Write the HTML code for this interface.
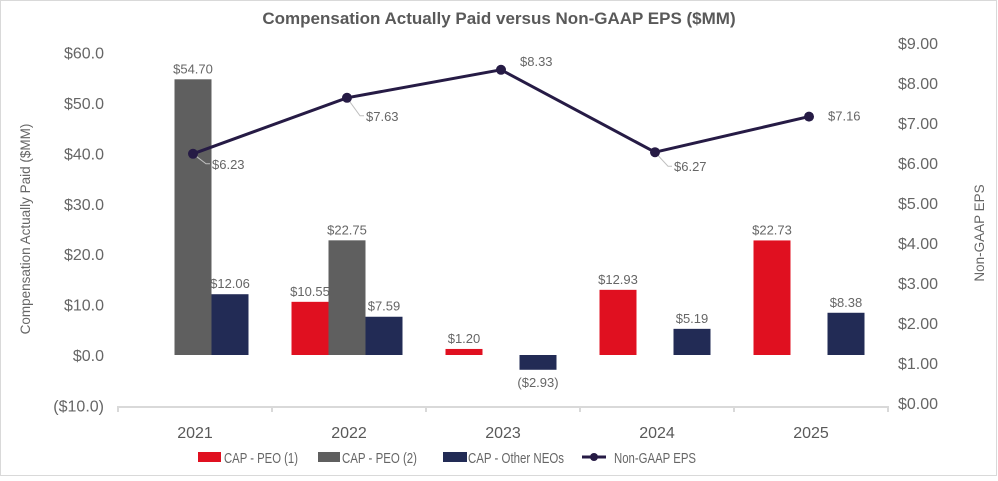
<!DOCTYPE html>
<html><head><meta charset="utf-8"><style>
body{margin:0;background:#fff;font-family:"Liberation Sans",Arial,sans-serif}
svg text{font-family:"Liberation Sans",Arial,sans-serif}
</style></head><body>
<svg width="998" height="476" viewBox="0 0 998 476" id="chart">
<rect x="0.5" y="0.5" width="996" height="475" fill="#fff" stroke="#d9d9d9"/>
<text x="499" y="24" text-anchor="middle" font-size="17" font-weight="bold" fill="#595959">Compensation Actually Paid versus Non-GAAP EPS ($MM)</text>
<text transform="translate(30,229) rotate(-90)" text-anchor="middle" font-size="13.5" fill="#666">Compensation Actually Paid ($MM)</text>
<text transform="translate(984,233) rotate(-90)" text-anchor="middle" font-size="13.5" fill="#666">Non-GAAP EPS</text>
<g id="g"></g>
<g>
<rect x="198" y="452" width="23" height="10" fill="#e01020"/>
<text x="224" y="463" font-size="15" fill="#666" textLength="74" lengthAdjust="spacingAndGlyphs">CAP - PEO (1)</text>
<rect x="318" y="452" width="22" height="10" fill="#5f5f5f"/>
<text x="342" y="463" font-size="15" fill="#666" textLength="75" lengthAdjust="spacingAndGlyphs">CAP - PEO (2)</text>
<rect x="443" y="452" width="24" height="10" fill="#222b55"/>
<text x="468" y="463" font-size="15" fill="#666" textLength="96" lengthAdjust="spacingAndGlyphs">CAP - Other NEOs</text>
<line x1="582" y1="457" x2="606" y2="457" stroke="#261b45" stroke-width="3"/>
<circle cx="594" cy="457" r="4" fill="#261b45"/>
<text x="614" y="463" font-size="15" fill="#666" textLength="82" lengthAdjust="spacingAndGlyphs">Non-GAAP EPS</text>
</g>
</svg>
<script>
const categories=["2021","2022","2023","2024","2025"];
const peo1=[null,10.55,1.20,12.93,22.73];
const peo2=[54.70,22.75,null,null,null];
const otherNeos=[12.06,7.59,-2.93,5.19,8.38];
const eps=[6.23,7.63,8.33,6.27,7.16];
const leftTicks=[-10,0,10,20,30,40,50,60];
const rightTicks=[0,1,2,3,4,5,6,7,8,9];
const NS="http://www.w3.org/2000/svg";
const g=document.getElementById('g');
const x0=118,x1=888,band=(x1-x0)/categories.length;
const yL=v=>355-v*5.04;
const yR=v=>403-v*40;
const xc=i=>x0+band*(i+0.5);
function mk(t,a,p){const e=document.createElementNS(NS,t);for(const k in a)e.setAttribute(k,a[k]);(p||g).appendChild(e);return e;}
function fmtL(v){return v<0?"($"+Math.abs(v).toFixed(1)+")":"$"+v.toFixed(1);}
function fmtB(v){return v<0?"($"+Math.abs(v).toFixed(2)+")":"$"+v.toFixed(2);}
leftTicks.forEach(v=>{const t=mk('text',{x:104,y:yL(v)+6,'text-anchor':'end','font-size':16,fill:'#666'});t.textContent=fmtL(v);

});
rightTicks.forEach(v=>{const t=mk('text',{x:898,y:yR(v)+6,'font-size':16,fill:'#666'});t.textContent="$"+v.toFixed(2);

});
const ax=mk('path',{d:`M${x0},412V407H${x1}V412`,fill:'none',stroke:'#d9d9d9','stroke-width':2});


for(let i=1;i<categories.length;i++){const tk=mk('line',{x1:x0+band*i,x2:x0+band*i,y1:407,y2:412,stroke:'#d9d9d9','stroke-width':2});

}
categories.forEach((c,i)=>{const t=mk('text',{x:xc(i),y:438,'text-anchor':'middle','font-size':16,fill:'#595959'});t.textContent=c;

});
const series=[[peo1,'#e01020',-37,'bar-peo1'],[peo2,'#5f5f5f',0,'bar-peo2'],[otherNeos,'#222b55',37,'bar-other-neos']];
series.forEach(([arr,col,off,nm])=>{arr.forEach((v,i)=>{if(v==null)return;
const cx=xc(i)+off-2,w=37,ya=yL(Math.max(v,0)),yb=yL(Math.min(v,0));
const r=mk('rect',{x:cx-w/2,y:ya,width:w,height:yb-ya,fill:col});


const t=mk('text',{x:cx,y:v<0?yb+17:ya-6,'text-anchor':'middle','font-size':13,fill:'#666'});t.textContent=fmtB(v);

});});
const lbl=[[17,14,true],[17,22,true],[17,-8,false],[17,18,true],[17,0,false]];
eps.forEach((v,i)=>{const px=xc(i)-2,py=yR(v),[dx,dy,lead]=lbl[i];
if(lead){const l=mk('polyline',{points:`${px},${py} ${px+dx-4},${py+dy-4} ${px+dx},${py+dy-4}`,fill:'none',stroke:'#bfbfbf'});

}
const t=mk('text',{x:px+dx+2,y:py+dy+(lead?1:4),'font-size':13,fill:'#666'});t.textContent="$"+v.toFixed(2);

});
const line=mk('polyline',{points:eps.map((v,i)=>`${xc(i)-2},${yR(v)}`).join(' '),fill:'none',stroke:'#261b45','stroke-width':3});


eps.forEach((v,i)=>{const c=mk('circle',{cx:xc(i)-2,cy:yR(v),r:5,fill:'#261b45'});

});
</script>
</body></html>
